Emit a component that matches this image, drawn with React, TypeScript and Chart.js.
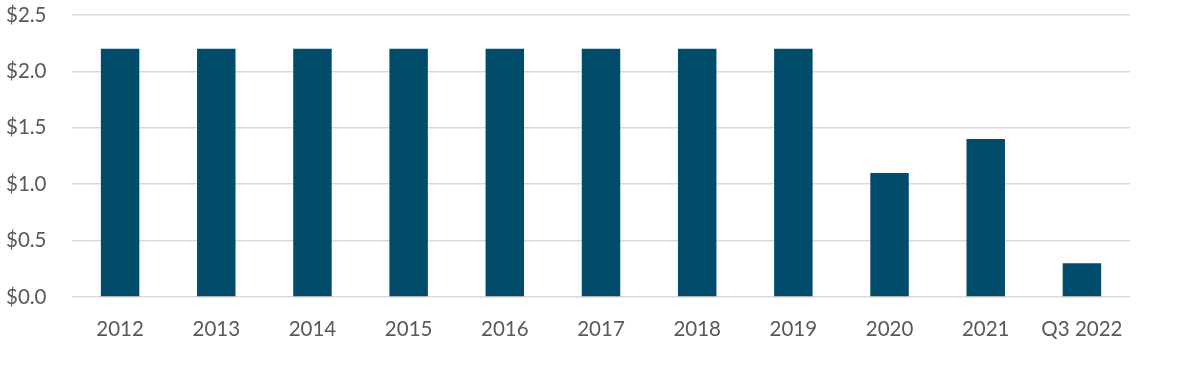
import React, { useEffect, useRef } from "react";
import { Chart, registerables } from "chart.js";

Chart.register(...registerables);

const categories = ["2012", "2013", "2014", "2015", "2016", "2017", "2018", "2019", "2020", "2021", "Q3 2022"];
const values = [2.2, 2.2, 2.2, 2.2, 2.2, 2.2, 2.2, 2.2, 1.1, 1.4, 0.3];

export default function App() {
  const ref = useRef<HTMLCanvasElement | null>(null);
  useEffect(() => {
    document.body.style.margin = "0";
    const chart = new Chart(ref.current!, {
      type: "bar",
      data: {
        labels: categories,
        datasets: [
          {
            data: values,
            backgroundColor: "#024C6B",
            barPercentage: 0.4,
            categoryPercentage: 1,
          },
        ],
      },
      options: {
        animation: false,
        responsive: false,
        maintainAspectRatio: false,
        layout: { padding: { top: 15, right: 70, left: 6, bottom: 0 } },
        plugins: { legend: { display: false }, tooltip: { enabled: false } },
        scales: {
          x: {
            grid: { display: false, drawTicks: false },
            border: { display: false },
            ticks: {
              color: "#595959",
              font: { family: "Lato", size: 20.5 },
              padding: 20,
              maxRotation: 0,
            },
            afterFit: (s: any) => {
              s.height = 84;
            },
          },
          y: {
            min: 0,
            max: 2.5,
            grid: { color: "#D9D9D9", lineWidth: 1.5, drawTicks: false },
            border: { display: false },
            ticks: {
              stepSize: 0.5,
              color: "#595959",
              font: { family: "Lato", size: 20.5 },
              padding: 0,
              crossAlign: "far",
              callback: (v: any) => "$" + Number(v).toFixed(1),
            },
            afterFit: (s: any) => {
              s.width = 66;
            },
          },
        },
      },
    });
    return () => chart.destroy();
  }, []);
  return (
    <div style={{ position: "absolute", left: 0, top: 0, width: 1200, height: 381 }}>
      <canvas ref={ref} width={1200} height={381} />
    </div>
  );
}
